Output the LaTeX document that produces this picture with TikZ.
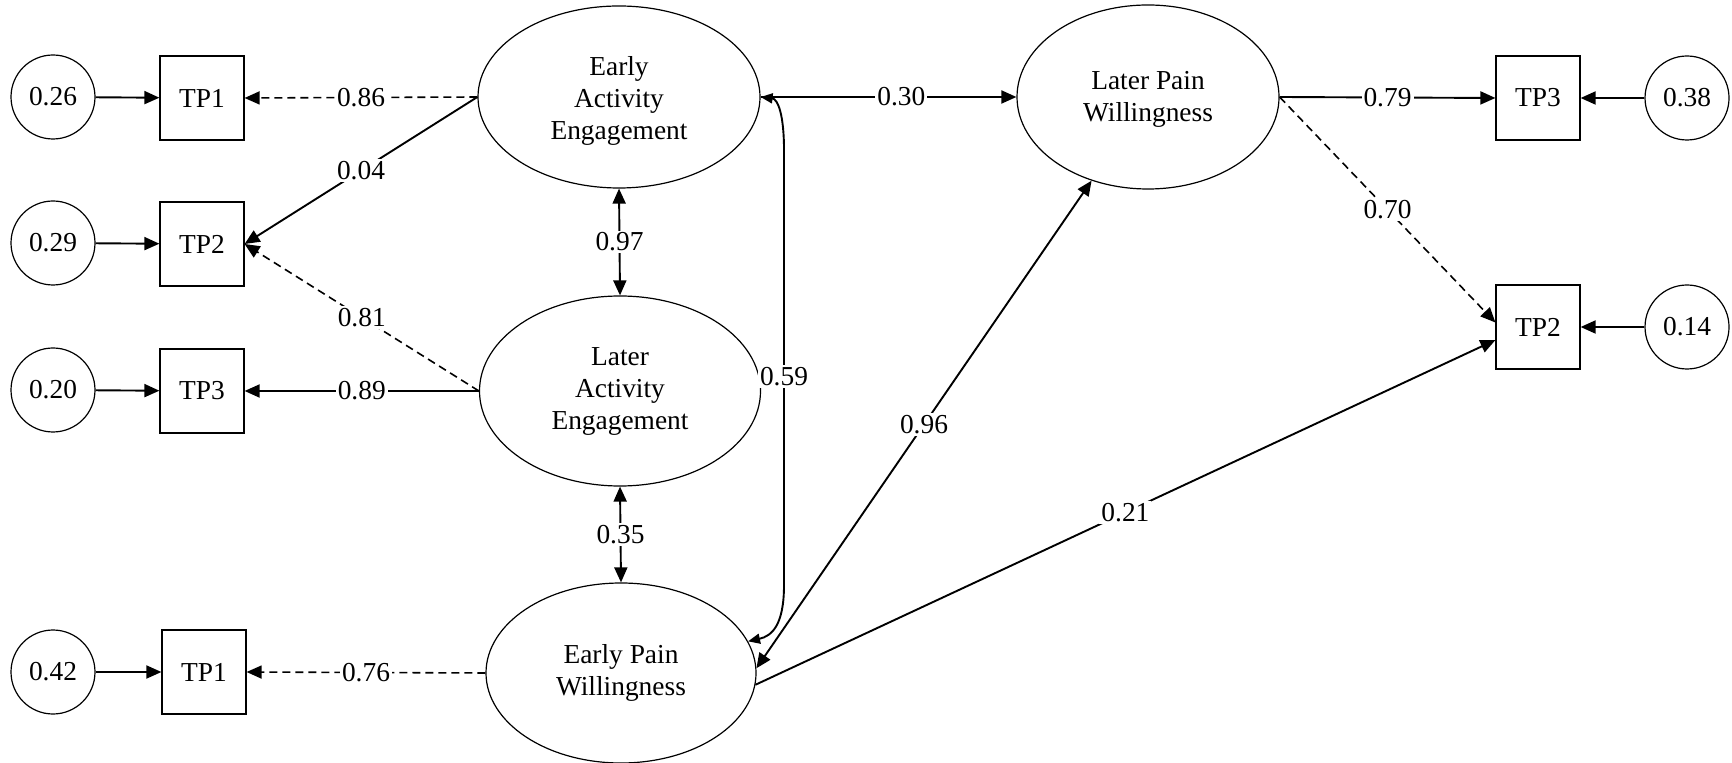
\documentclass[tikz,border=0pt]{standalone}
\usepackage{fontspec}
\setmainfont{Liberation Serif}
\usetikzlibrary{shapes.geometric,arrows.meta}
\begin{document}
\begin{tikzpicture}[x=0.5pt,y=-0.5pt,
  every node/.style={font=\fontsize{13.7}{16}\selectfont},
  err/.style={circle,draw,line width=0.6pt,minimum size=42pt,inner sep=0pt},
  obs/.style={rectangle,draw,line width=0.6pt,minimum size=42pt,inner sep=0pt},
  lat/.style={ellipse,draw,line width=0.6pt,inner sep=0pt,align=center},
  conn/.style={line width=0.95pt,-{Triangle[length=7.5pt,width=6.5pt]}},
  dconn/.style={line width=0.8pt,dash pattern=on 4pt off 2.5pt,-{Triangle[length=7.5pt,width=6.5pt]}},
  bconn/.style={line width=0.95pt,{Triangle[length=7.5pt,width=6.5pt]}-{Triangle[length=7.5pt,width=6.5pt]}},
  sconn/.style={line width=0.95pt,{Triangle[length=6pt,width=5pt]}-{Triangle[length=6pt,width=5pt]}},
  lab/.style={fill=white,inner sep=1pt}
]
\path[use as bounding box] (0,0) rectangle (1732,763);
% left indicators
\node[err] (e1) at (53,97) {0.26};
\node[obs] (l1) at (202,98) {TP1};
\node[err] (e2) at (53,243) {0.29};
\node[obs] (l2) at (202,244) {TP2};
\node[err] (e3) at (53,390) {0.20};
\node[obs] (l3) at (202,391) {TP3};
\node[err] (e4) at (53,672) {0.42};
\node[obs] (l4) at (204,672) {TP1};
% latent variables
\node[lat,minimum width=141pt,minimum height=91pt] (eae) at (619,97) {\rule{0pt}{13.5pt}Early\\Activity\\Engagement};
\node[lat,minimum width=140.5pt,minimum height=95pt] (lae) at (620,391) {Later\\Activity\\Engagement};
\node[lat,minimum width=135pt,minimum height=90pt] (epw) at (621,673) {Early Pain\\Willingness};
\node[lat,minimum width=131pt,minimum height=92pt] (lpw) at (1148,97) {\rule{0pt}{11pt}Later Pain\\Willingness};
% right indicators
\node[obs] (r3) at (1538,98) {TP3};
\node[obs] (r2) at (1538,327) {TP2};
\node[err] (e5) at (1687,98) {0.38};
\node[err] (e6) at (1687,327) {0.14};
% error arrows
\draw[conn] (e1) -- (l1);
\draw[conn] (e2) -- (l2);
\draw[conn] (e3) -- (l3);
\draw[conn] (e4) -- (l4);
\draw[conn] (e5) -- (r3);
\draw[conn] (e6) -- (r2);
% loadings
\draw[dconn] (eae.west) -- node[lab]{0.86} (l1.east);
\draw[conn] (eae.west) -- node[lab]{0.04} (l2.east);
\draw[dconn] (lae.west) -- node[lab]{0.81} (l2.east);
\draw[conn] (lae.west) -- node[lab]{0.89} (l3.east);
\draw[dconn] (epw.west) -- node[lab]{0.76} (l4.east);
\draw[conn] (lpw.east) -- node[lab]{0.79} (r3.west);
\draw[dconn] (lpw.east) -- node[lab]{0.70} (r2.174.6);
% structural paths
\draw[bconn] (eae.south) -- node[lab]{0.97} (lae.north);
\draw[bconn] (lae.south) -- node[lab]{0.35} (epw.north);
\draw[conn] (eae.east) -- node[lab,pos=0.55]{0.30} (lpw.west);
\draw[sconn] (eae.east) .. controls (778,99) and (784,115) .. (784,150)
  -- node[lab,pos=0.52]{0.59} (784,585) .. controls (784,625) and (772,636) .. (epw.14);
\draw[bconn] (epw.2) -- node[lab]{0.96} (lpw.236);
\draw[conn] (epw.-5) -- node[lab]{0.21} (r2.197);
\end{tikzpicture}
\end{document}
